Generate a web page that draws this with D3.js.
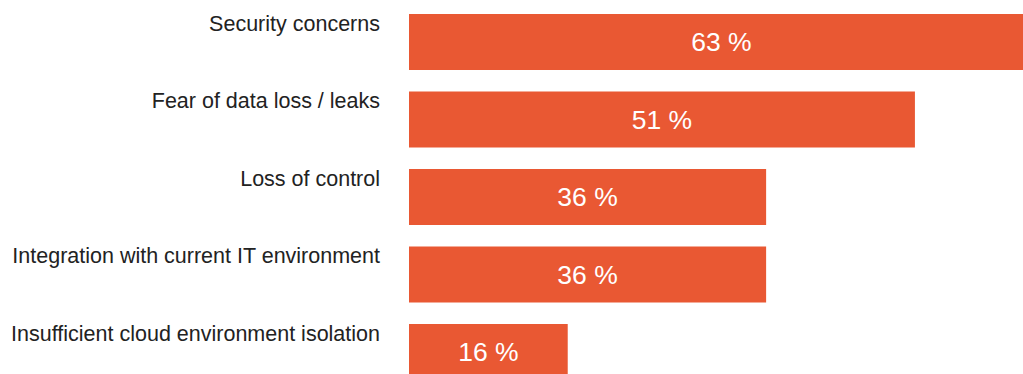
<!DOCTYPE html>
<html>
<head>
<meta charset="utf-8">
<script src="https://cdn.jsdelivr.net/npm/d3@7"></script>
<style>
  html, body { margin: 0; padding: 0; background: #fff; }
  svg { display: block; }
</style>
</head>
<body>
<div id="chart"></div>
<script>
// Survey responses: main obstacles to cloud adoption (share of respondents, %)
const categories = [
  "Security concerns",
  "Fear of data loss / leaks",
  "Loss of control",
  "Integration with current IT environment",
  "Insufficient cloud environment isolation"
];
const values = [63, 51, 36, 36, 16];

const width = 1023, height = 374;
const barLeft = 409;

const svg = d3.select("#chart").append("svg")
  .attr("width", width)
  .attr("height", height);

// 1 percentage point ≈ 9.92 px; the longest bar runs past the right edge
const x = d3.scaleLinear().domain([0, 100]).range([barLeft, barLeft + 992]);

// rows every 77.5 px, bars 56 px tall
const y = d3.scaleBand()
  .domain(categories)
  .range([14, 14 + 4 * 77.5 + 56])
  .paddingInner(21.5 / 77.5)
  .paddingOuter(0);

const rows = svg.selectAll("g.row")
  .data(categories.map((c, i) => ({ c, v: values[i] })))
  .join("g")
  .attr("class", "row");

rows.append("rect")
  .attr("x", x(0))
  .attr("y", d => y(d.c))
  .attr("width", d => x(d.v) - x(0))
  .attr("height", y.bandwidth())
  .attr("fill", "#E95833");

rows.append("text")
  .attr("x", 380)
  .attr("y", d => y(d.c) + 16.5)
  .attr("text-anchor", "end")
  .attr("font-family", "Liberation Sans, Arial, sans-serif")
  .attr("font-size", 21.5)
  .attr("fill", "#222")
  .text(d => d.c);

rows.append("text")
  .attr("x", d => (x(0) + x(d.v)) / 2)
  .attr("y", d => y(d.c) + y.bandwidth() / 2 + 9)
  .attr("text-anchor", "middle")
  .attr("font-family", "Liberation Sans, Arial, sans-serif")
  .attr("font-size", 26.5)
  .attr("fill", "#fff")
  .text(d => d.v + " %");
</script>
</body>
</html>
